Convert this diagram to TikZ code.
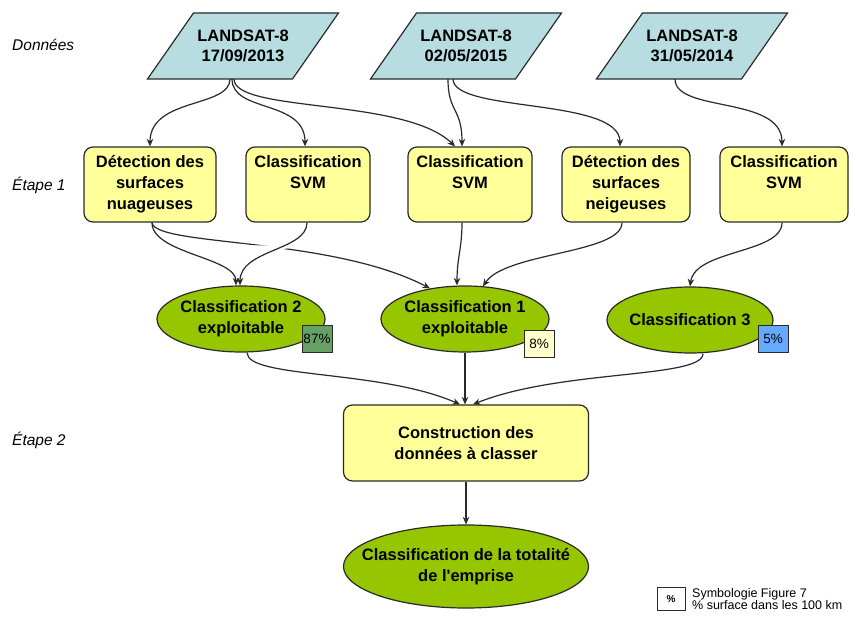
\documentclass[tikz,border=0pt]{standalone}
\usepackage{fontspec}
\setmainfont{Liberation Sans}
\usetikzlibrary{arrows.meta,shapes.geometric}
\definecolor{parafill}{HTML}{B7DDE0}
\definecolor{boxfill}{HTML}{FFFF99}
\definecolor{ellfill}{HTML}{95C600}
\definecolor{bgreen}{HTML}{66A066}
\definecolor{byellow}{HTML}{FFFFCC}
\definecolor{bblue}{HTML}{66AAFF}
\definecolor{edge}{HTML}{2A2A2A}
\begin{document}
\begin{tikzpicture}[x=1pt,y=1pt,
  conn/.style={draw=edge, line width=1.2pt, -{Stealth[length=7.5pt,width=6.5pt]}},
  parashape/.style={draw=edge, line width=1.2pt, fill=parafill},
  paratext/.style={align=center, inner sep=0pt, font=\fontsize{16.5}{20}\selectfont\bfseries},
  stepbox/.style={draw=edge, line width=1.2pt, fill=boxfill, rounded corners=9pt, align=center,
    inner sep=0pt, font=\fontsize{16.5}{21}\selectfont\bfseries},
  ellbox/.style={ellipse, draw=edge, line width=1.2pt, fill=ellfill, inner sep=0pt},
  elltext/.style={align=center, inner sep=0pt, font=\fontsize{16.5}{21}\selectfont\bfseries},
  badge/.style={draw=edge, line width=1pt, minimum width=30pt, minimum height=27pt, inner sep=0pt,
    font=\fontsize{13.5}{13.5}\selectfont},
  sidelabel/.style={anchor=west, inner sep=0pt, font=\fontsize{15.5}{15.5}\selectfont\itshape},
]
\fill[white] (0,0) rectangle (856,618);
\useasboundingbox (0,0) rectangle (856,618);

% side labels
\node[sidelabel] (ld) at (12,573) {Données};
\node[sidelabel] (le1) at (12,433) {Étape 1};
\node[sidelabel] (le2) at (12,178) {Étape 2};

% data parallelograms
\coordinate (p1c) at (243,572);
\coordinate (p2c) at (466,572);
\coordinate (p3c) at (692,572);
\foreach \c in {p1c,p2c,p3c}
  \draw[parashape] ([shift={(-95.5,-33)}]\c) -- ++(145,0) -- ++(46,66) -- ++(-145,0) -- cycle;
\node[paratext] (p1) at (p1c) {LANDSAT-8\\17/09/2013};
\node[paratext] (p2) at (p2c) {LANDSAT-8\\02/05/2015};
\node[paratext] (p3) at (p3c) {LANDSAT-8\\31/05/2014};

% step 1 boxes
\node[stepbox, minimum width=132pt, minimum height=75pt] (b1) at (150,433.5) {Détection des\\surfaces\\nuageuses};
\node[stepbox, minimum width=124pt, minimum height=75pt, text depth=24pt] (b2) at (308,433.5) {Classification\\SVM};
\node[stepbox, minimum width=124pt, minimum height=75pt, text depth=24pt] (b3) at (470,433.5) {Classification\\SVM};
\node[stepbox, minimum width=128pt, minimum height=75pt] (b4) at (626,433.5) {Détection des\\surfaces\\neigeuses};
\node[stepbox, minimum width=128pt, minimum height=75pt, text depth=24pt] (b5) at (784,433.5) {Classification\\SVM};

% classification ellipses
\node[ellbox, minimum width=168pt, minimum height=66pt] (e2) at (241,299) {};
\node[elltext] (e2t) at (e2.center) {Classification 2\\exploitable};
\node[ellbox, minimum width=168pt, minimum height=66pt] (e1) at (465,299) {};
\node[elltext] (e1t) at (e1.center) {Classification 1\\exploitable};
\node[ellbox, minimum width=166pt, minimum height=66pt] (e3) at (690,298) {};
\node[elltext] (e3t) at (e3.center) {Classification 3};

% badges
\node[badge, fill=bgreen] (k2) at (317,279) {87\%};
\node[badge, fill=byellow] (k1) at (539,274) {8\%};
\node[badge, fill=bblue] (k3) at (773,279) {5\%};

% step 2
\node[stepbox, minimum width=245pt, minimum height=76pt] (c) at (466,175) {Construction des\\données à classer};
\node[ellbox, minimum width=245pt, minimum height=83pt] (f) at (466,51.5) {};
\node[elltext] (ft) at (f.center) {Classification de la totalité\\de l\textquotesingle emprise};

% legend
\node[draw=edge, line width=1pt, minimum width=28pt, minimum height=23pt, inner sep=0pt,
  font=\fontsize{10}{10}\selectfont\bfseries] (lg) at (671,19) {\%};
\node[anchor=west, align=left, inner sep=0pt, font=\fontsize{12.5}{12}\selectfont] (lgt) at (692,19)
  {Symbologie Figure 7\\\% surface dans les 100 km};

% data -> step 1
\draw[conn] ([shift={(-13,-33)}]p1.center) .. controls +(0,-29) and +(0,49) .. (b1.north);
\draw[conn] ([shift={(-11,-33)}]p1.center) .. controls +(0,-34) and +(0,47) .. ([xshift=-3]b2.north);
\draw[conn] ([shift={(-9,-33)}]p1.center) .. controls +(0,-34) and +(-50,49) .. ([xshift=-15]b3.north);
\draw[conn] ([shift={(-18,-33)}]p2.center) .. controls +(0,-34) and +(0,39) .. ([xshift=-8]b3.north);
\draw[conn] ([shift={(-13,-33)}]p2.center) .. controls +(0,-34) and +(0,49) .. ([xshift=-6]b4.north);
\draw[conn] ([shift={(-17,-33)}]p3.center) .. controls +(0,-34) and +(0,51) .. ([xshift=-2]b5.north);

% step 1 -> classifications
\draw[conn] ([xshift=2]b1.south) .. controls +(3,-24) and +(-100,52) .. ([shift={(-35,-3)}]e1.north);
\draw[conn, preaction={draw=white, line width=5pt, -, shorten <=12pt, shorten >=40pt}]
  ([xshift=-1]b2.south) .. controls +(0,-28) and +(0,36) .. ([xshift=-1]e2.north);
\draw[conn] ([xshift=2]b1.south) .. controls +(0,-31) and +(0,28) .. ([xshift=-5]e2.north);
\draw[conn] ([xshift=-8]b3.south) .. controls +(0,-26) and +(0,28) .. ([xshift=-8]e1.north);
\draw[conn] ([xshift=-4]b4.south) .. controls +(0,-31) and +(22,34) .. ([shift={(18,-1)}]e1.north);
\draw[conn] ([xshift=-2]b5.south) .. controls +(0,-31) and +(5,37) .. (e3.north);

% classifications -> construction
\draw[conn] ([xshift=6]e2.south) .. controls +(0,-26) and +(-80,35) .. ([xshift=-6]c.north);
\draw[conn] (e1.south) -- (e1.south |- c.north);
\draw[conn] ([xshift=13]e3.south) .. controls +(0,-25) and +(87,35) .. ([xshift=7]c.north);

% construction -> final
\draw[conn] (c.south) -- (f.north);
\end{tikzpicture}
\end{document}
